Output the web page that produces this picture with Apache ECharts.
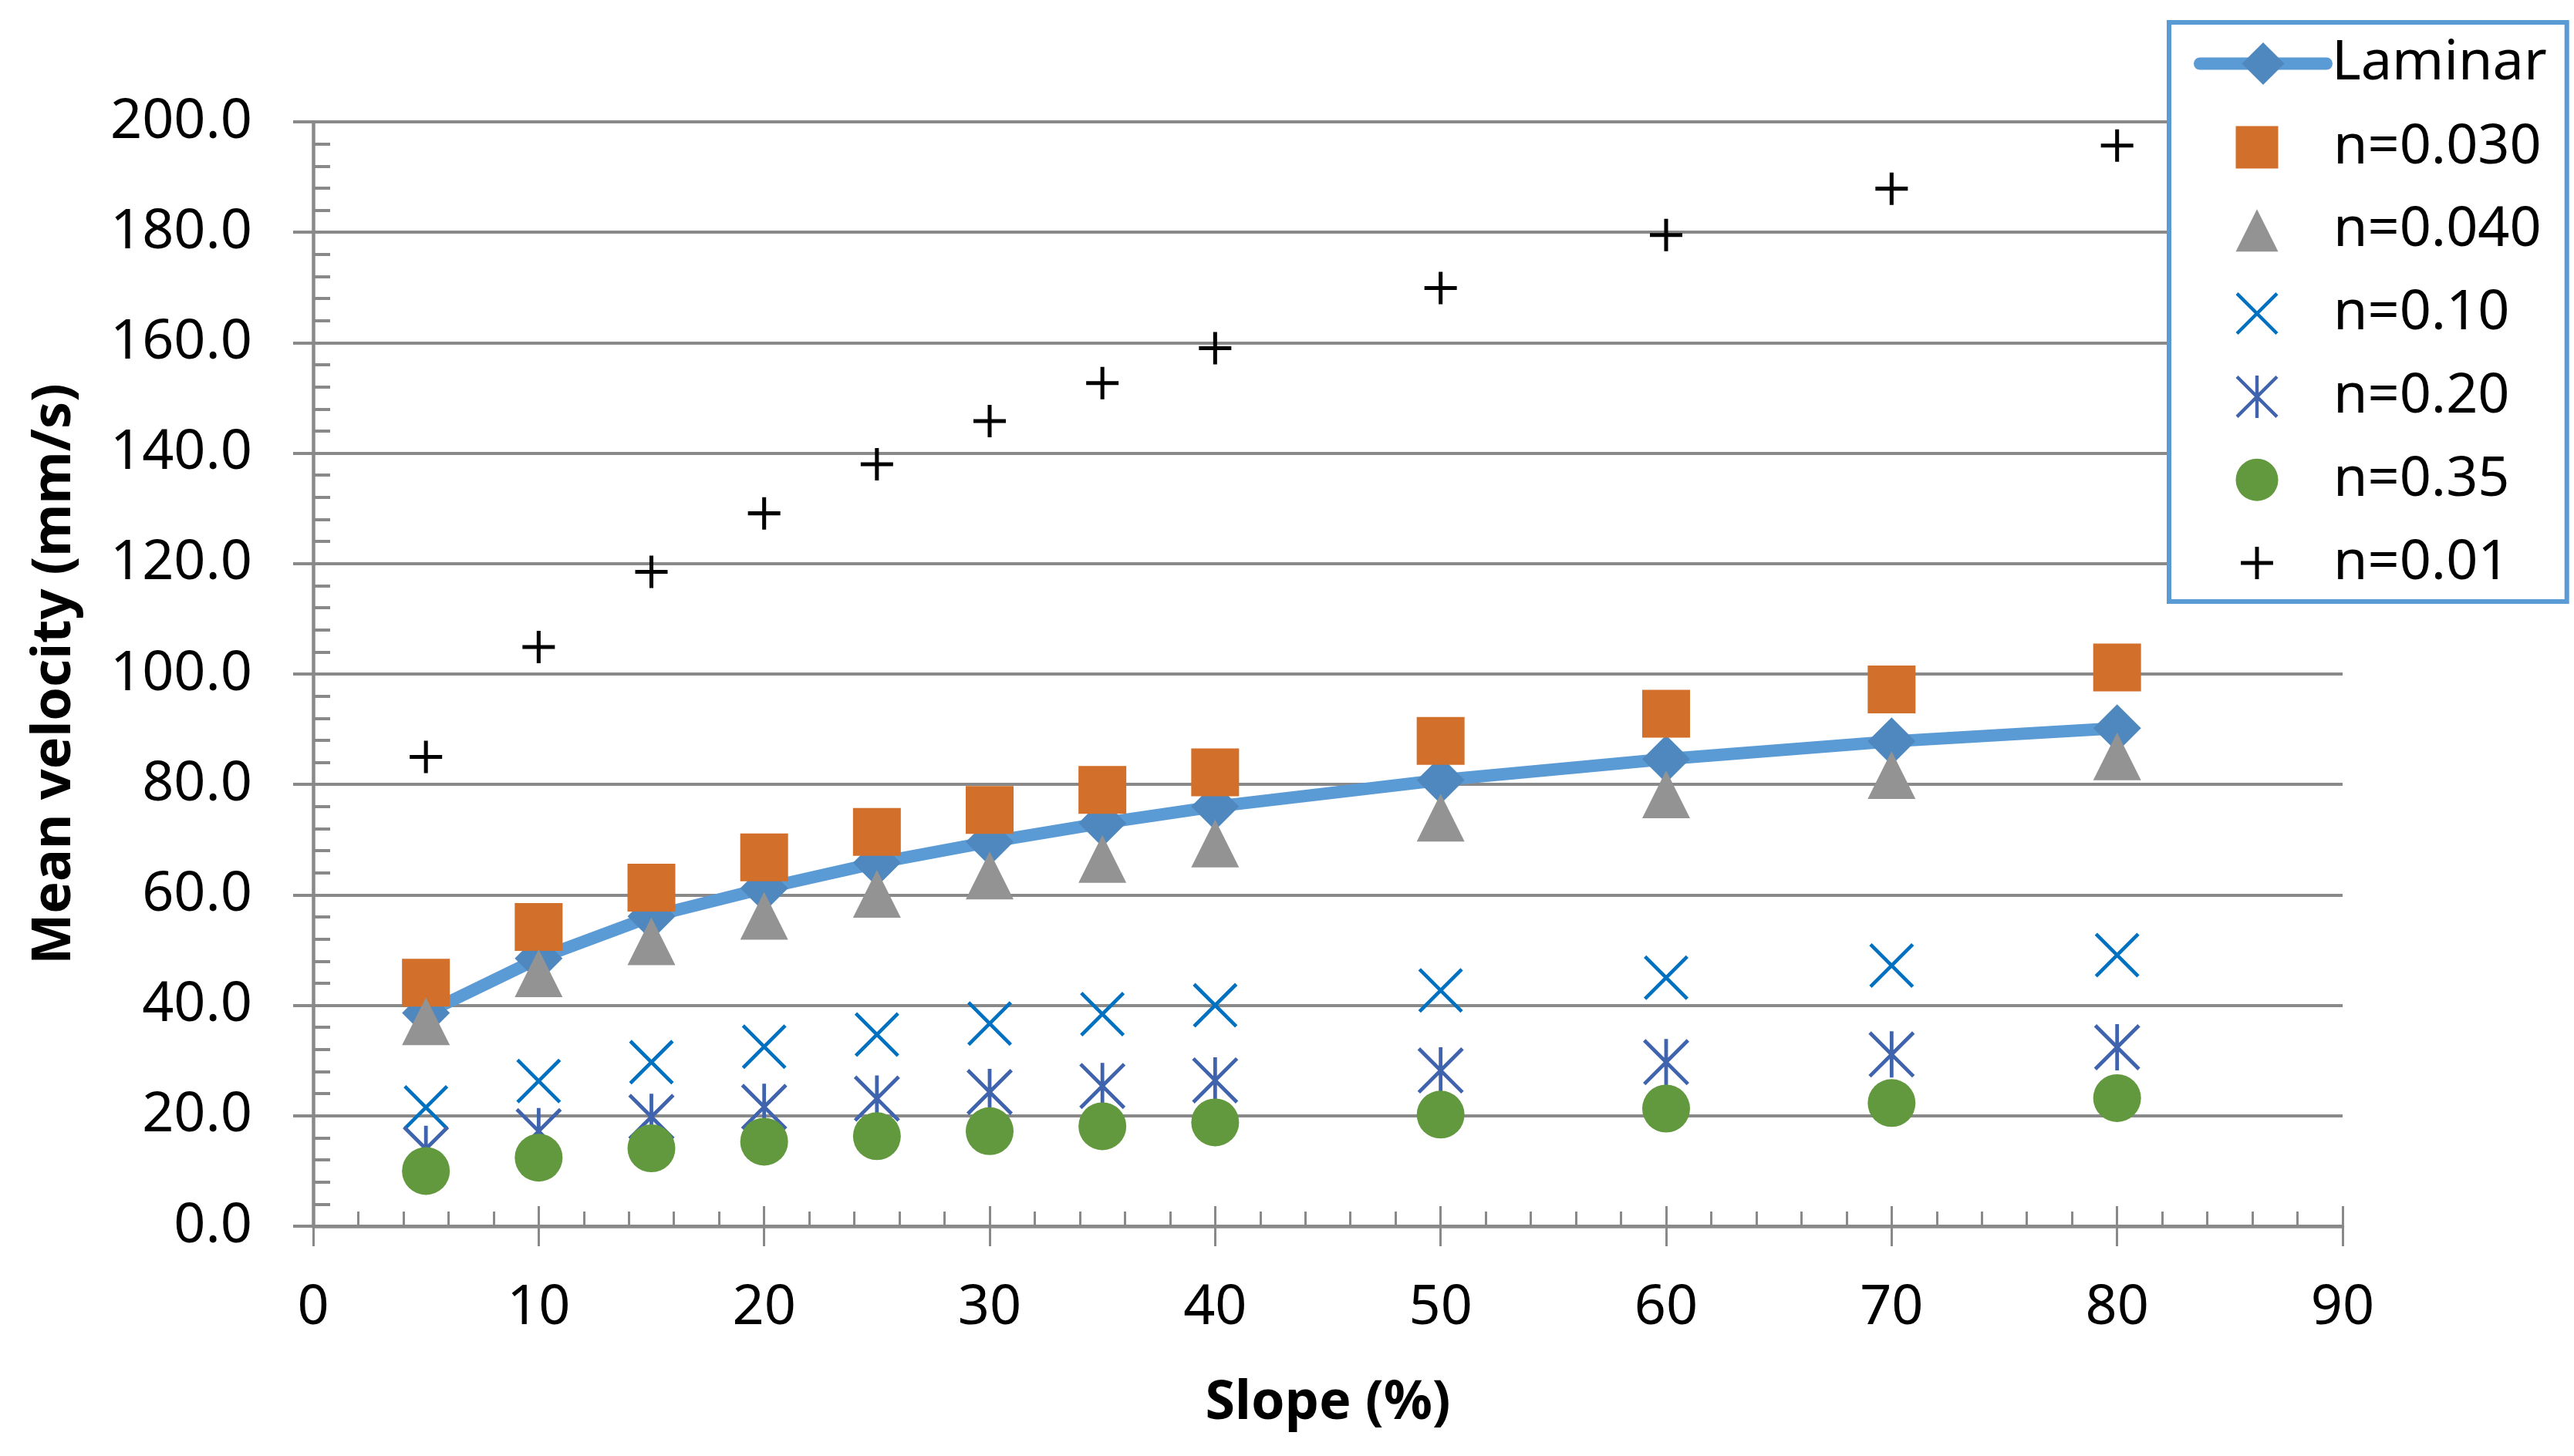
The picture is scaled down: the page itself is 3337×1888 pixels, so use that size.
<!DOCTYPE html>
<html>
<head>
<meta charset="utf-8">
<script src="https://cdn.jsdelivr.net/npm/echarts@6/dist/echarts.min.js"></script>
<style>
html,body{margin:0;padding:0;background:#fff}
#c{width:3337px;height:1888px}
</style>
</head>
<body>
<div id="c"></div>
<script>
// ---- data ----
const slope   = [5, 10, 15, 20, 25, 30, 35, 40, 50, 60, 70, 80];
const laminar = [38.6, 48.5, 56.1, 61.2, 65.8, 69.6, 73.0, 76.0, 80.8, 84.6, 87.8, 90.2];
const n030    = [44.1, 54.2, 61.3, 66.8, 71.4, 75.4, 79.0, 82.2, 87.9, 92.8, 97.2, 101.2];
const n040    = [37.1, 45.8, 51.6, 56.2, 60.2, 63.5, 66.5, 69.3, 74.0, 78.2, 81.7, 85.1];
const n010    = [21.5, 26.3, 29.7, 32.5, 34.7, 36.7, 38.4, 40.0, 42.7, 45.0, 47.2, 49.1];
const n020    = [14.0, 17.2, 19.8, 21.6, 23.1, 24.3, 25.4, 26.4, 28.2, 29.7, 31.1, 32.4];
const n035    = [10.0, 12.4, 14.1, 15.3, 16.3, 17.2, 18.1, 18.8, 20.2, 21.3, 22.3, 23.2];
const n001    = [85.0, 104.9, 118.5, 129.1, 138.0, 145.8, 152.7, 159.0, 169.9, 179.5, 187.9, 195.7];
const seriesNames = ['Laminar', 'n=0.030', 'n=0.040', 'n=0.10', 'n=0.20', 'n=0.35', 'n=0.01'];
const xTitle = 'Slope (%)';
const yTitle = 'Mean velocity (mm/s)';

// ---- marker shapes ----
const SYM_X = 'path://M0,5.66L5.66,0L100,94.34L94.34,100ZM100,5.66L5.66,100L0,94.34L94.34,0Z';
const SYM_STAR = SYM_X + 'M46,0L54,0L54,100L46,100Z';
const SYM_PLUS = 'path://M0,44L100,44L100,56L0,56ZM44,0L56,0L56,100L44,100Z';
const SYM_PLUS_LEG = 'path://M0,0M100,100M12,45.5L88,45.5L88,54.5L12,54.5ZM45.5,12L54.5,12L54.5,88L45.5,88Z';
const SYM_RECT_LEG = 'path://M0,0L100,0L100,100L0,100Z';
const SYM_TRI_LEG = 'path://M50,0L100,100L0,100Z';

const FONT = 'Noto Sans';
const pairs = ys => slope.map((x, i) => [x, ys[i]]);

const chart = echarts.init(document.getElementById('c'));
const axisGray = '#898989';

const option = {
  animation: false,
  backgroundColor: '#fff',
  grid: { left: 406, right: 300, top: 158, bottom: 298, containLabel: false },
  xAxis: [
    {
      type: 'value', min: 0, max: 90, interval: 10, position: 'bottom',
      axisLine: { show: true, onZero: false, lineStyle: { color: axisGray, width: 4.5 } },
      axisTick: { show: true, inside: false, length: 26, lineStyle: { color: axisGray, width: 3 } },
      minorTick: { show: false },
      splitLine: { show: false },
      axisLabel: { fontFamily: FONT, fontSize: 72, color: '#000', margin: 70 },
      name: xTitle, nameLocation: 'middle', nameGap: 195,
      nameTextStyle: { fontFamily: FONT, fontSize: 70, fontWeight: 'bold', color: '#000' }
    },
    {
      type: 'value', min: 0, max: 90, interval: 10, position: 'bottom',
      axisLine: { show: false, onZero: false },
      axisTick: { show: true, inside: true, length: 26, lineStyle: { color: axisGray, width: 3 } },
      minorTick: { show: true, splitNumber: 5, length: 19, lineStyle: { color: axisGray, width: 3 } },
      splitLine: { show: false },
      axisLabel: { show: false }
    }
  ],
  yAxis: [
    {
      type: 'value', min: 0, max: 200, interval: 20, position: 'left',
      axisLine: { show: true, onZero: false, lineStyle: { color: axisGray, width: 4.5 } },
      axisTick: { show: true, inside: false, length: 26, lineStyle: { color: axisGray, width: 4 } },
      splitLine: { show: true, lineStyle: { color: axisGray, width: 4 } },
      axisLabel: { fontFamily: FONT, fontSize: 72, color: '#000', margin: 79,
                   formatter: v => v.toFixed(1) },
      name: yTitle, nameLocation: 'middle', nameGap: 300,
      nameTextStyle: { fontFamily: FONT, fontSize: 70, fontWeight: 'bold', color: '#000' }
    },
    {
      type: 'value', min: 0, max: 200, interval: 20, position: 'left',
      axisLine: { show: false, onZero: false },
      axisTick: { show: true, inside: true, length: 22, lineStyle: { color: axisGray, width: 4 } },
      minorTick: { show: true, splitNumber: 5, length: 22, lineStyle: { color: axisGray, width: 4 } },
      splitLine: { show: false },
      axisLabel: { show: false }
    }
  ],
  legend: [
    {
      data: [
        { name: seriesNames[1], icon: SYM_RECT_LEG },
        { name: seriesNames[2], icon: SYM_TRI_LEG },
        seriesNames[3], seriesNames[4], seriesNames[5],
        { name: seriesNames[6], icon: SYM_PLUS_LEG }
      ],
      orient: 'vertical', left: 2812, top: 29,
      padding: [126, 33, 14, 86.5],
      itemWidth: 180, itemHeight: 55, itemGap: 35.8,
      borderColor: '#5B9BD5', borderWidth: 6, backgroundColor: '#fff',
      textStyle: { fontFamily: FONT, fontSize: 72, color: '#000', padding: [0, 0, 0, 4] },
      selectedMode: false, z: 4
    },
    {
      data: [seriesNames[0]],
      orient: 'vertical', left: 2844, top: 46.5, padding: 0,
      itemWidth: 164, itemHeight: 69,
      lineStyle: { width: 16, cap: 'round' },
      textStyle: { fontFamily: FONT, fontSize: 72, color: '#000', padding: [0, 0, 0, 2] },
      selectedMode: false, z: 6
    }
  ],
  series: [
    {
      name: seriesNames[0], type: 'line', data: pairs(laminar),
      symbol: 'diamond', symbolSize: 62, showAllSymbol: true,
      lineStyle: { color: '#5B9BD5', width: 16, cap: 'round', join: 'round' },
      itemStyle: { color: '#4F88BE' }, z: 2
    },
    { name: seriesNames[1], type: 'scatter', data: pairs(n030), symbol: 'rect', symbolSize: 62,
      itemStyle: { color: '#D16F2B', opacity: 1 }, z: 3 },
    { name: seriesNames[2], type: 'scatter', data: pairs(n040), symbol: 'triangle', symbolSize: 62,
      itemStyle: { color: '#939393', opacity: 1 }, z: 3 },
    { name: seriesNames[3], type: 'scatter', data: pairs(n010), symbol: SYM_X, symbolSize: 58,
      itemStyle: { color: '#0070C0', opacity: 1 }, z: 3 },
    { name: seriesNames[4], type: 'scatter', data: pairs(n020), symbol: SYM_STAR, symbolSize: 60,
      itemStyle: { color: '#3F63AD', opacity: 1 }, z: 3 },
    { name: seriesNames[5], type: 'scatter', data: pairs(n035), symbol: 'circle', symbolSize: 62,
      itemStyle: { color: '#62993E', opacity: 1 }, z: 3 },
    { name: seriesNames[6], type: 'scatter', data: pairs(n001), symbol: SYM_PLUS, symbolSize: 42,
      itemStyle: { color: '#000', opacity: 1 }, z: 3 }
  ]
};
chart.setOption(option);
</script>
</body>
</html>
